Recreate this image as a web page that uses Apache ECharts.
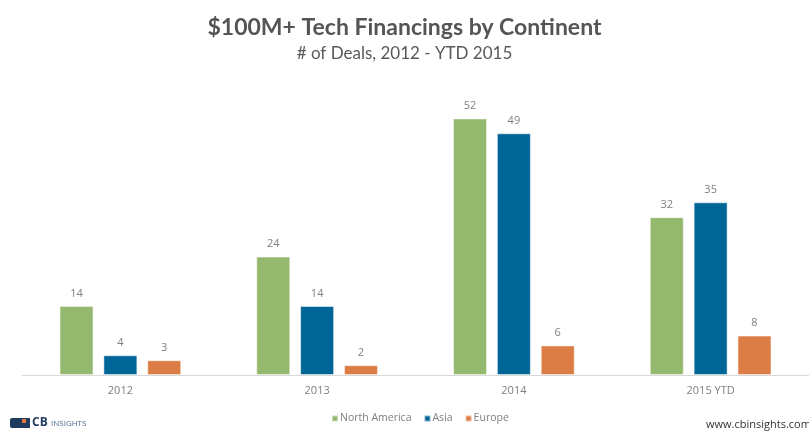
<!DOCTYPE html>
<html>
<head>
<meta charset="utf-8">
<script src="https://cdn.jsdelivr.net/npm/echarts@6/dist/echarts.min.js"></script>
<style>
  html, body { margin: 0; padding: 0; background: #fff; }
  #chart { width: 809px; height: 431px; }
</style>
</head>
<body>
<div id="chart"></div>
<script>
const myChart = echarts.init(document.getElementById('chart'));

// 类目与数据
const years = ['2012', '2013', '2014', '2015 YTD'];
const northAmerica = [14, 24, 52, 32];
const asia = [4, 14, 49, 35];
const europe = [3, 2, 6, 8];

const labelStyle = {
  show: true,
  position: 'top',
  distance: 7,
  color: '#7f7f7f',
  fontSize: 11,
  fontFamily: 'Open Sans'
};

function makeSeries(name, data, color) {
  return {
    name: name,
    type: 'bar',
    data: data,
    barWidth: 34,
    barGap: '29%',
    itemStyle: { color: color, borderColor: 'rgba(255,255,255,0.5)', borderWidth: 1 },
    label: labelStyle
  };
}

const option = {
  backgroundColor: '#fff',
  animation: false,
  title: [{
    text: '$100M+ Tech Financings by Continent',
    left: 'center',
    top: 11,
    textStyle: { color: '#555555', fontSize: 23, fontWeight: 'bold', fontFamily: 'Lato' }
  }, {
    text: '# of Deals, 2012 - YTD 2015',
    left: 'center',
    top: 40,
    textStyle: { color: '#595959', fontSize: 17, fontWeight: 'normal', fontFamily: 'Lato' }
  }],
  legend: {
    top: 408,
    left: 326,
    itemWidth: 6,
    itemHeight: 6,
    itemGap: 12,
    icon: 'rect',
    textStyle: { color: '#7f7f7f', fontSize: 10.5, fontFamily: 'Open Sans', padding: [0, 0, 0, -3] },
    data: ['North America', 'Asia', 'Europe']
  },
  grid: { left: 22, right: -1, top: 79, height: 296 },
  xAxis: {
    type: 'category',
    data: years,
    axisLine: { lineStyle: { color: '#d9d9d9' } },
    axisTick: { show: false },
    axisLabel: { color: '#7f7f7f', fontSize: 11, fontFamily: 'Open Sans', margin: 10 }
  },
  yAxis: {
    type: 'value',
    min: 0,
    max: 60,
    show: false
  },
  graphic: [
    // CB Insights 标志
    { type: 'rect', left: 10, top: 418, shape: { width: 12, height: 10, r: 2 }, style: { fill: '#1f3a5f' } },
    { type: 'rect', left: 20, top: 418, shape: { width: 10, height: 10 }, style: { fill: '#1f3a5f' } },
    { type: 'rect', left: 22, top: 419, shape: { width: 4, height: 4 }, style: { fill: '#e07a3f' } },
    { type: 'text', left: 32, top: 417, style: { text: 'CB', fill: '#1f3a5f', font: 'bold 12px Open Sans' } },
    { type: 'text', left: 51, top: 420, style: { text: 'INSIGHTS', fill: '#4a6a8a', font: '8px Open Sans' } },
    { type: 'text', left: 706, top: 419, style: { text: 'www.cbinsights.com', fill: '#333', font: '11px Open Sans' } }
  ],
  series: [
    makeSeries('North America', northAmerica, '#95b86f'),
    makeSeries('Asia', asia, '#006597'),
    makeSeries('Europe', europe, '#dd7d46')
  ]
};
myChart.setOption(option);
</script>
</body>
</html>
